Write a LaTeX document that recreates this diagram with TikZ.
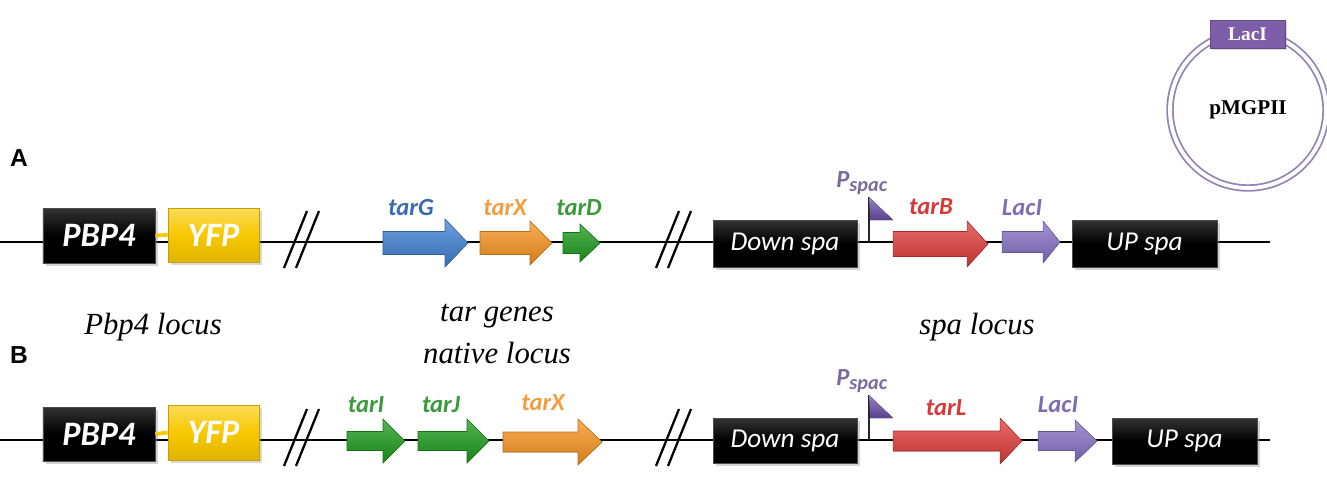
\documentclass[tikz,border=0pt]{standalone}
\usepackage{fontspec}
\setmainfont{Liberation Serif}
\newfontfamily\calfont{Carlito}
\newfontfamily\arialfont{Liberation Sans}
\usetikzlibrary{shadows}
\definecolor{cblue}{HTML}{3F7FD2}
\definecolor{lblue}{HTML}{3A6AB0}
\definecolor{corange}{HTML}{F8921E}
\definecolor{lorange}{HTML}{F29E40}
\definecolor{cgreen}{HTML}{1C9A1C}
\definecolor{lgreen}{HTML}{3A9A3A}
\definecolor{cred}{HTML}{E03A3A}
\definecolor{lred}{HTML}{D83838}
\definecolor{cpurple}{HTML}{8670C4}
\definecolor{lpurple}{HTML}{7E6CB4}
\definecolor{cyellow}{HTML}{F8C800}
\definecolor{flagp}{HTML}{6A4CA8}
\definecolor{pspac}{HTML}{7A6A9E}
\definecolor{plbox}{HTML}{7E5EA8}
\definecolor{plcirc}{HTML}{9482B4}
\newcommand\gbox[7]{% name, x1, y1, x2, y2, style, text
  \pgfmathsetmacro\bw{(#4-#2)*0.02}\pgfmathsetmacro\bh{(#5-#3)*0.02}%
  \node[#6, minimum width=\bw cm, minimum height=\bh cm] (#1) at ({(#2+#4)/2},{(#3+#5)/2}) {#7};}
\newcommand\genearrow[8]{% name, x1, xh, x2, yc, bh, hh, color
  \filldraw[top color=#8!75!white, middle color=#8, bottom color=#8!85!black, draw=#8!75!black, line width=0.3pt]
    (#2,{#5-#6}) -- (#3,{#5-#6}) -- (#3,{#5-#7}) -- (#4,#5) -- (#3,{#5+#7}) -- (#3,{#5+#6}) -- (#2,{#5+#6}) -- cycle;
  \coordinate (#1) at ({(#2+#4)/2},#5);}
\tikzset{
  blackbox/.style={rectangle, top color=black!80, bottom color=black, middle color=black, draw=black!70, inner sep=0pt, text=white,
    drop shadow={shadow xshift=1.5pt, shadow yshift=-1.5pt, opacity=0.35}},
  yfpbox/.style={rectangle, top color=cyellow!65!white, bottom color=cyellow!90!black, middle color=cyellow, draw=cyellow!80!black, inner sep=0pt, text=white,
    drop shadow={shadow xshift=1.5pt, shadow yshift=-1.5pt, opacity=0.3}},
  boldlab/.style={font=\calfont\bfseries\itshape\fontsize{19.5}{23}\selectfont},
  spalab/.style={font=\calfont\itshape\fontsize{15.5}{18}\selectfont},
  genelab/.style={font=\calfont\bfseries\itshape\fontsize{14}{16}\selectfont, inner sep=0pt},
  locus/.style={font=\itshape\fontsize{17.5}{21}\selectfont, inner sep=0pt},
  rowlab/.style={font=\arialfont\bfseries\fontsize{14}{16}\selectfont, inner sep=0pt},
  backbone/.style={line width=0.85pt, black},
  slash/.style={line width=1.3pt, black},
  link/.style={line width=2.2pt, cyellow},
}
\begin{document}
\begin{tikzpicture}[x=0.02cm, y=-0.02cm]
\useasboundingbox (0,0) rectangle (1327,487);
% ---------- Row A ----------
\coordinate (a0) at (0,242);
\coordinate (a1) at (1270,242);
\draw[backbone] (a0) -- (a1);
\gbox{pbpA}{43}{208}{155}{263}{blackbox,boldlab}{PBP4}
\gbox{yfpA}{168}{208}{259}{262}{yfpbox,boldlab}{YFP}
\draw[link] (pbpA.east) -- (yfpA.west);
\draw[slash] (284,268) -- (307,211);
\draw[slash] (296,268) -- (319,211);
\genearrow{tarG}{383}{445}{468}{243}{11.5}{24}{cblue}
\genearrow{tarXa}{480}{530}{552}{243}{11.5}{22}{corange}
\genearrow{tarD}{563}{580}{600}{243}{10.5}{19}{cgreen}
\node[genelab, text=lblue] (ltarG) at (411,208) {tarG};
\node[genelab, text=lorange] (ltarXa) at (505,208) {tarX};
\node[genelab, text=lgreen] (ltarD) at (579,208) {tarD};
\draw[slash] (656,268) -- (679,211);
\draw[slash] (668,268) -- (691,211);
\gbox{downA}{713}{220}{857}{267}{blackbox,spalab}{Down spa}
\coordinate (fA) at (869,242);
\coordinate (fAt) at (869,197);
\draw[line width=1.3pt, black!85] (fA) -- (fAt);
\fill[top color=flagp!70!white, bottom color=flagp!85!black] (fAt) -- (893,220) -- (870,220) -- cycle;
\node[font=\calfont\bfseries\itshape, text=pspac, inner sep=0pt, anchor=base west] (pA) at (836,187) {\fontsize{14}{16}\selectfont P\raisebox{-0.4ex}{\fontsize{11.5}{13}\selectfont spac}};
\genearrow{tarB}{893}{967}{988}{244}{12.5}{23}{cred}
\node[genelab, text=lred] (ltarB) at (931,207) {tarB};
\genearrow{lacA}{1002}{1043}{1060}{242}{10.5}{21}{cpurple}
\node[genelab, text=lpurple] (llacA) at (1022,208) {LacI};
\gbox{upA}{1072}{220}{1217}{267}{blackbox,spalab}{UP spa}
% ---------- labels ----------
\node[rowlab] (labA) at (19,158) {A};
\node[rowlab] (labB) at (19,355) {B};
\node[locus] (loc1) at (153,327) {Pbp4 locus};
\node[locus] (loc2) at (497,316) {tar genes};
\node[locus] (loc3) at (497,353) {native locus};
\node[locus] (loc4) at (977,327) {spa locus};
% ---------- Row B ----------
\coordinate (b0) at (0,440);
\coordinate (b1) at (1270,440);
\draw[backbone] (b0) -- (b1);
\gbox{pbpB}{43}{407}{155}{461}{blackbox,boldlab}{PBP4}
\gbox{yfpB}{168}{405}{259}{460}{yfpbox,boldlab}{YFP}
\draw[link] (pbpB.east) -- (yfpB.west);
\draw[slash] (284,466) -- (307,409);
\draw[slash] (296,466) -- (319,409);
\genearrow{tarI}{347}{383}{405}{441}{9.5}{22}{cgreen}
\genearrow{tarJ}{418}{467}{489}{441}{9.5}{22}{cgreen}
\genearrow{tarXb}{503}{578}{602}{442}{10}{23}{corange}
\node[genelab, text=lgreen] (ltarI) at (366,405) {tarI};
\node[genelab, text=lgreen] (ltarJ) at (441,405) {tarJ};
\node[genelab, text=lorange] (ltarXb) at (543,403) {tarX};
\draw[slash] (656,466) -- (679,409);
\draw[slash] (668,466) -- (691,409);
\gbox{downB}{713}{418}{857}{463}{blackbox,spalab}{Down spa}
\coordinate (fB) at (869,440);
\coordinate (fBt) at (869,395);
\draw[line width=1.3pt, black!85] (fB) -- (fBt);
\fill[top color=flagp!70!white, bottom color=flagp!85!black] (fBt) -- (893,418) -- (870,418) -- cycle;
\node[font=\calfont\bfseries\itshape, text=pspac, inner sep=0pt, anchor=base west] (pB) at (836,385) {\fontsize{14}{16}\selectfont P\raisebox{-0.4ex}{\fontsize{11.5}{13}\selectfont spac}};
\genearrow{tarL}{893}{1000}{1022}{441}{10}{23}{cred}
\node[genelab, text=lred] (ltarL) at (946,408) {tarL};
\genearrow{lacB}{1038}{1075}{1097}{441}{9.5}{21}{cpurple}
\node[genelab, text=lpurple] (llacB) at (1058,405) {LacI};
\gbox{upB}{1112}{418}{1257}{464}{blackbox,spalab}{UP spa}
% ---------- plasmid ----------
\pgfmathsetmacro\pd{156*0.02}
\node[circle, draw=plcirc, double=white, double distance=2.2pt, line width=1pt, minimum size=\pd cm, inner sep=0pt,
  font=\bfseries\fontsize{12}{14}\selectfont] (plasmid) at (1248,110) {pMGPII};
\gbox{plac}{1210}{20}{1285}{48}{rectangle, fill=plbox, draw=plbox!80!black, inner sep=0pt, text=white, font=\bfseries\fontsize{11}{13}\selectfont, drop shadow={shadow xshift=1pt, shadow yshift=-1pt, opacity=0.3}}{LacI}
\end{tikzpicture}
\end{document}
